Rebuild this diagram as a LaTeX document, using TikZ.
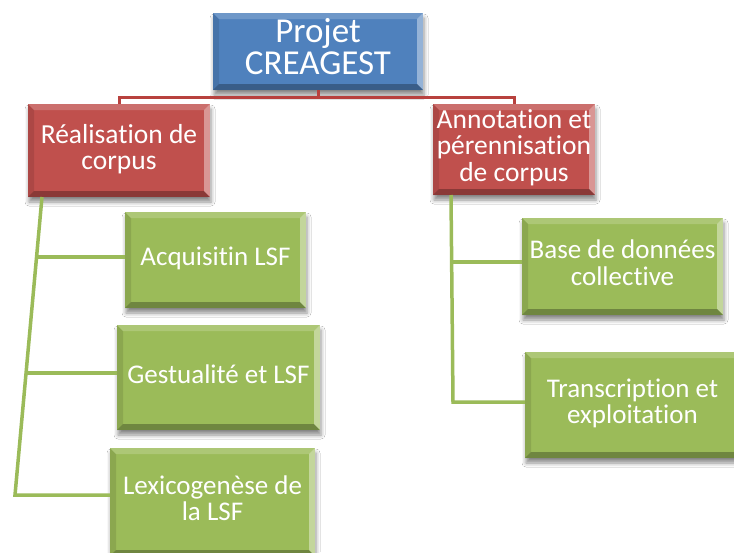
\documentclass[tikz,border=0pt]{standalone}
\usepackage{fontspec}
\setmainfont{Carlito}[RawFeature={-liga}]
\usetikzlibrary{calc,shadows.blur}
\definecolor{cblue}{HTML}{4F81BD}
\definecolor{cred}{HTML}{C0504D}
\definecolor{cgreen}{HTML}{9BBB59}
\definecolor{credline}{HTML}{B8413E}
\newcommand\liftup[2]{\raisebox{#1}{\begin{tabular}{@{}c@{}}#2\end{tabular}}}
\tikzset{
  bevel/.style={path picture={
    \path (path picture bounding box.south west) coordinate (bsw)
          (path picture bounding box.north east) coordinate (bne);
    \fill[white,opacity=0.18] (bsw|-bne) -- (bne) -- ($(bne)+(-6pt,-6pt)$) -- ($(bsw|-bne)+(6pt,-6pt)$) -- cycle;
    \fill[white,opacity=0.40] (bne) -- (bne|-bsw) -- ($(bne|-bsw)+(-6pt,6pt)$) -- ($(bne)+(-6pt,-6pt)$) -- cycle;
    \fill[black,opacity=0.28] (bsw) -- (bne|-bsw) -- ($(bne|-bsw)+(-6pt,6pt)$) -- ($(bsw)+(6pt,6pt)$) -- cycle;
    \fill[black,opacity=0.10] (bsw) -- (bsw|-bne) -- ($(bsw|-bne)+(6pt,-6pt)$) -- ($(bsw)+(6pt,6pt)$) -- cycle;
  }},
  box/.style={rectangle, fill=#1, text=white, align=center, inner sep=0pt, bevel,
    blur shadow={shadow xshift=1pt, shadow yshift=-5pt, shadow blur radius=4pt, shadow opacity=45}},
  topfont/.style={font=\fontsize{35}{31}\selectfont},
  redfont/.style={font=\fontsize{27.5}{26}\selectfont},
  greenfont/.style={font=\fontsize{27}{25.5}\selectfont},
  rline/.style={draw=credline, line width=3pt},
  gline/.style={draw=cgreen, line width=3.5pt},
}
\begin{document}
\begin{tikzpicture}[x=1pt,y=-1pt]
\useasboundingbox (0,0) rectangle (734,552);
\fill[white] (0,0) rectangle (734,552);

\node[box=cblue, topfont, minimum width=210pt, minimum height=77pt] (top) at (318,51.5) {\liftup{6pt}{Projet\\CREAGEST}};
\node[box=cred, redfont, minimum width=182pt, minimum height=93pt] (rl) at (119,150.5) {\liftup{5pt}{Réalisation de\\corpus}};
\node[box=cred, redfont, minimum width=162pt, minimum height=91pt] (rr) at (514,149.5) {\liftup{4pt}{Annotation et\\pérennisation\\de corpus}};

\node[box=cgreen, greenfont, minimum width=181pt, minimum height=96pt] (g1) at (215.5,260) {\liftup{7pt}{Acquisitin LSF}};
\node[box=cgreen, greenfont, minimum width=203pt, minimum height=105pt] (g2) at (218.5,377.5) {\liftup{5pt}{Gestualité et LSF}};
\node[box=cgreen, greenfont, minimum width=205pt, minimum height=108pt] (g3) at (212.5,502) {\liftup{7pt}{Lexicogenèse de\\la LSF}};
\node[box=cgreen, greenfont, minimum width=201pt, minimum height=97pt] (g4) at (622.5,266.5) {\liftup{5pt}{Base de données\\collective}};
\node[box=cgreen, greenfont, minimum width=215pt, minimum height=106pt] (g5) at (632.5,405) {\liftup{5pt}{Transcription et\\exploitation}};

% red connectors
\draw[rline] (top.south) -- ++(0,7) -| (rl.north);
\draw[rline] (top.south) -- ++(0,7) -| (rr.north);

% green connectors left
\coordinate (lt) at (42,197);
\coordinate (lb) at (15,495);
\coordinate (l1) at (36.6,257);
\coordinate (l2) at (26,373);
\draw[gline] (lt) -- (lb) -- (lb-|g3.west);
\draw[gline] (l1) -- (l1-|g1.west);
\draw[gline] (l2) -- (l2-|g2.west);

% green connectors right
\coordinate (rt) at (451,195);
\coordinate (rb) at (453,402);
\coordinate (r1) at (452,262);
\draw[gline] (rt) -- (rb) -- (rb-|g5.west);
\draw[gline] (r1) -- (r1-|g4.west);
\end{tikzpicture}
\end{document}
